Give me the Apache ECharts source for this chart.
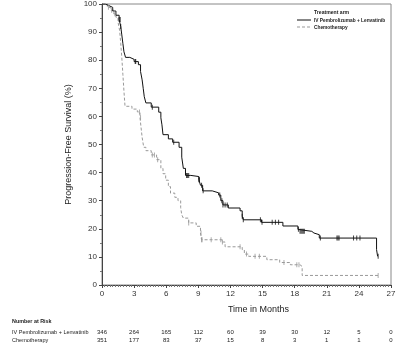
<!DOCTYPE html>
<html>
<head>
<meta charset="utf-8">
<script src="https://cdn.jsdelivr.net/npm/echarts@6/dist/echarts.min.js"></script>
<style>
  html, body { margin: 0; padding: 0; background: #fff; }
  #chart { width: 400px; height: 352px; }
</style>
</head>
<body>
<div id="chart"></div>
<script>
// step points (time in months, PFS %)
const pembroT = [0, 0.3, 0.6, 1.0, 1.3, 1.6, 1.75, 1.85, 1.95, 2.05, 2.2, 2.6, 3.0, 3.4, 3.6, 3.75, 3.85, 3.95, 4.1, 4.6, 5.3, 5.5, 5.6, 5.7, 6.2, 6.6, 7.2, 7.45, 7.6, 7.8, 8.3, 9.05, 9.2, 9.4, 10.3, 10.9, 11.1, 11.3, 11.8, 12.9, 13.1, 13.2, 14.9, 16.9, 18.3, 18.4, 19.6, 19.8, 20.3, 25.65, 25.75, 25.8];
const pembroS = [100, 99.5, 98.8, 97.5, 96, 94.5, 92, 89, 86, 83, 81, 80.3, 79.5, 78.4, 76, 73, 70, 67, 64.8, 63.3, 61.5, 59.5, 57, 53.5, 52, 50.8, 49, 45.5, 41.5, 39, 38.6, 37.5, 35.5, 33.5, 32.8, 32, 30, 28.5, 27.4, 26.4, 24.5, 23.2, 22.3, 21, 19.8, 19.1, 18.5, 17.9, 16.7, 12.6, 10.2, 10.2];
const chemoT = [0, 0.5, 0.8, 1.1, 1.3, 1.5, 1.65, 1.75, 1.85, 1.95, 2.05, 2.15, 2.8, 3.3, 3.55, 3.65, 3.75, 3.9, 4.1, 4.6, 5.1, 5.5, 5.7, 5.95, 6.2, 6.4, 6.8, 7.1, 7.35, 7.45, 7.6, 8.1, 8.8, 9.2, 9.3, 11.2, 11.5, 13.1, 13.3, 13.7, 15.4, 16.6, 17.6, 18.5, 18.7, 25.8];
const chemoS = [100, 98.8, 97.8, 96.5, 95.3, 93.5, 90.5, 86, 81, 75, 69, 63.6, 62.6, 61.6, 59.5, 56, 52.5, 49, 47.8, 46.3, 44.6, 41.5, 39.6, 37.3, 35, 32.7, 31.2, 30, 27.5, 25, 23.8, 22.1, 20.9, 18.5, 16.1, 15.3, 13.6, 12.6, 11, 10.2, 9, 8, 7.2, 6.6, 3.4, 3.4];

// censoring times
const pembroCens = [1.6, 1.7, 1.75, 3.1, 3.15, 4.7, 6.7, 7.9, 8.0, 8.1, 9.05, 9.1, 9.3, 9.45, 11.0, 11.2, 11.3, 11.5, 11.7, 13.1, 13.2, 14.8, 14.95, 15.9, 16.2, 16.5, 18.35, 18.5, 18.6, 18.7, 18.8, 18.9, 20.4, 21.95, 22.05, 22.15, 23.5, 23.8, 24.1, 25.8];
const chemoCens = [0.6, 0.9, 1.2, 3.5, 3.6, 4.7, 4.9, 5.2, 8.1, 9.25, 9.3, 9.35, 10.2, 11.1, 11.25, 12.9, 13.5, 14.3, 14.7, 17.0, 18.2, 18.4, 25.8];

const riskTimes = [0, 3, 6, 9, 12, 15, 18, 21, 24, 27];
const riskPembro = [346, 264, 165, 112, 60, 39, 30, 12, 5, 0];
const riskChemo = [351, 177, 83, 37, 15, 8, 3, 1, 1, 0];

const armNames = ['IV Pembrolizumab + Lenvatinib', 'Chemotherapy'];
const armColors = ['#111', '#999'];

function stepAt(ts, ss, t) {
  let s = ss[0];
  for (let i = 0; i < ts.length; i++) {
    if (ts[i] <= t) s = ss[i];
  }
  return s;
}
function pairs(ts, ss) {
  return ts.map((t, i) => [t, ss[i]]);
}

const chart = echarts.init(document.getElementById('chart'));
const font = 'Arial, "Liberation Sans", sans-serif';

chart.setOption({
  animation: false,
  textStyle: { fontFamily: font },
  grid: {
    left: 102, right: 9, top: 4, bottom: 67,
    show: true, borderColor: '#888', borderWidth: 1
  },
  xAxis: {
    type: 'value', min: 0, max: 27, interval: 3,
    name: 'Time in Months', nameLocation: 'middle', nameGap: 20,
    nameTextStyle: { fontSize: 9, color: '#222', padding: [0, 0, 0, 24] },
    axisLine: { lineStyle: { color: '#444' } },
    axisTick: { length: 3, lineStyle: { color: '#444' } },
    minorTick: { show: true, splitNumber: 12, length: 2, lineStyle: { color: '#777' } },
    axisLabel: { fontSize: 8, color: '#333', margin: 5 },
    splitLine: { show: false }
  },
  yAxis: {
    type: 'value', min: 0, max: 100, interval: 10,
    name: 'Progression-Free Survival (%)', nameLocation: 'middle', nameGap: 27,
    nameTextStyle: { fontSize: 9, color: '#222' },
    axisLine: { show: true, lineStyle: { color: '#444' } },
    axisTick: { show: true, length: 3, lineStyle: { color: '#444' } },
    minorTick: { show: true, splitNumber: 2, length: 2, lineStyle: { color: '#777' } },
    axisLabel: { fontSize: 8, color: '#333', margin: 5 },
    splitLine: { show: false }
  },
  series: [
    {
      name: armNames[0], type: 'line', step: 'end', symbol: 'none',
      data: pairs(pembroT, pembroS),
      lineStyle: { color: armColors[0], width: 1 },
      itemStyle: { color: armColors[0] }, z: 3
    },
    {
      name: armNames[1], type: 'line', step: 'end', symbol: 'none',
      data: pairs(chemoT, chemoS),
      lineStyle: { color: armColors[1], width: 1, type: [3, 2] },
      itemStyle: { color: armColors[1] }, z: 2
    },
    {
      type: 'scatter', symbol: 'rect', symbolSize: [1, 5], silent: true,
      data: pembroCens.map(t => [t, stepAt(pembroT, pembroS, t)]),
      itemStyle: { color: armColors[0] }, z: 4
    },
    {
      type: 'scatter', symbol: 'rect', symbolSize: [1, 5], silent: true,
      data: chemoCens.map(t => [t, stepAt(chemoT, chemoS, t)]),
      itemStyle: { color: armColors[1] }, z: 3
    }
  ]
});

// legend and number-at-risk table, risk counts placed with the x scale
const g = [];
g.push({ type: 'text', x: 314, y: 9, scaleX: 0.85, style: { text: 'Treatment arm', fontSize: 6, fontWeight: 'bold', fill: '#222', fontFamily: font } });
armNames.forEach((name, i) => {
  const y = 20 + i * 7;
  g.push({ type: 'line', shape: { x1: 297, y1: y, x2: 311, y2: y },
    style: { stroke: armColors[i], lineWidth: 1, lineDash: i ? [3, 2] : null } });
  g.push({ type: 'text', x: 314, y: y, scaleX: 0.8, style: { text: name, fontSize: 6, fontWeight: 'bold', fill: '#222', verticalAlign: 'middle', fontFamily: font } });
});
g.push({ type: 'text', x: 12, y: 318, scaleX: 0.9, style: { text: 'Number at Risk', fontSize: 6, fontWeight: 'bold', fill: '#222', fontFamily: font } });
g.push({ type: 'text', x: 12, y: 329, scaleX: 0.92, style: { text: armNames[0], fontSize: 6, fill: '#222', fontFamily: font } });
g.push({ type: 'text', x: 12, y: 337, scaleX: 0.92, style: { text: armNames[1], fontSize: 6, fill: '#222', fontFamily: font } });
riskTimes.forEach((t, i) => {
  const x = chart.convertToPixel({ xAxisIndex: 0 }, t);
  g.push({ type: 'text', x: x, y: 332, style: { text: String(riskPembro[i]), fontSize: 6, fill: '#222', align: 'center', verticalAlign: 'middle', fontFamily: font } });
  g.push({ type: 'text', x: x, y: 340, style: { text: String(riskChemo[i]), fontSize: 6, fill: '#222', align: 'center', verticalAlign: 'middle', fontFamily: font } });
});
chart.setOption({ graphic: g });
</script>
</body>
</html>
